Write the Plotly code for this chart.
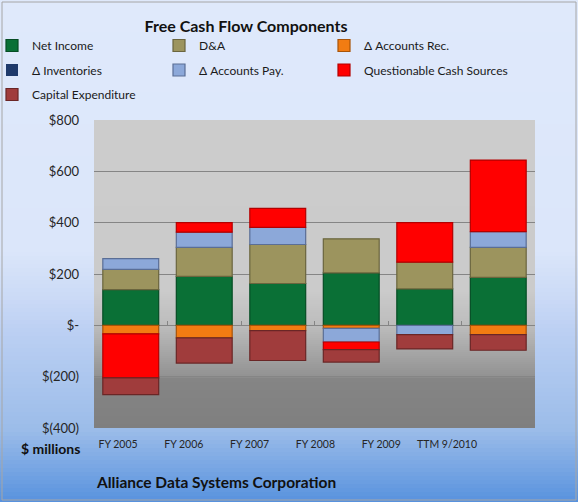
import plotly.graph_objects as go

# ---------------- data ----------------
categories = ["FY 2005", "FY 2006", "FY 2007", "FY 2008", "FY 2009", "TTM 9/2010"]
net_income = [139, 191, 163, 204, 142, 187]
d_and_a = [79, 113, 152, 133, 104, 117]
accounts_rec = [-33, -49, -21, -12, 0, -36]
inventories = [0, 0, 0, 0, 0, 0]
accounts_pay = [42, 59, 67, -53, -36, 61]
questionable = [-172, 37, 74, -30, 154, 279]
capex = [-65, -98, -116, -48, -56, -61]

y_tick_vals = [-400, -200, 0, 200, 400, 600, 800]
y_tick_text = ["$(400)", "$(200)", "$-", "$200", "$400", "$600", "$800"]
Y_MIN, Y_MAX = -400, 800

# ---------------- geometry helpers ----------------
W, H = 578, 502
L, R, T, B = 94, 535, 120, 428
PW, PH = R - L, B - T


def px_x(px):
    return (px - L) / PW


def px_y(py):
    return (B - py) / PH


def interp(stops, p):
    for (p0, c0), (p1, c1) in zip(stops, stops[1:]):
        if p0 <= p <= p1:
            t = 0 if p1 == p0 else (p - p0) / (p1 - p0)
            if isinstance(c0, tuple):
                return tuple(round(a + (b - a) * t) for a, b in zip(c0, c1))
            return round(c0 + (c1 - c0) * t)
    return stops[-1][1]


FONT = "Lato"

series = [
    ("Net Income", net_income, "#0a7036", "#064d24", "legend"),
    ("D&A", d_and_a, "#9c945e", "#6a653e", "legend2"),
    ("Δ Accounts Rec.", accounts_rec, "#f27c12", "#a85408", "legend3"),
    ("Δ Inventories", inventories, "#1f3a6b", "#142648", "legend"),
    ("Δ Accounts Pay.", accounts_pay, "#8ca8d9", "#5a6e96", "legend2"),
    ("Questionable Cash Sources", questionable, "#ff0000", "#b30000", "legend3"),
    ("Capital Expenditure", capex, "#a03c3c", "#6a2626", "legend"),
]

fig = go.Figure()
for i, (name, vals, col, line, leg) in enumerate(series):
    fig.add_trace(go.Bar(
        x=categories, y=vals, name=name,
        marker=dict(color=col, line=dict(color=line, width=[1.2 if v else 0 for v in vals])),
        legend=leg, legendgroup=f"g{i}",
    ))

# invisible carrier so the label axis is drawn
fig.add_trace(go.Scatter(x=list(range(len(categories))), y=[0] * len(categories),
                         xaxis="x2", mode="markers", marker=dict(opacity=0),
                         showlegend=False, hoverinfo="skip"))

shapes = []
# outer background gradient (paper)
paper_stops = [(0, (223, 233, 251)), (250, (219, 230, 250)), (300, (202, 217, 246)),
               (330, (188, 208, 243)), (430, (155, 188, 233)), (502, (88, 146, 222))]
step = 4
for py in range(0, H, step):
    r, g, b = interp(paper_stops, py + step / 2)
    shapes.append(dict(type="rect", xref="paper", yref="paper", layer="below",
                       x0=px_x(-2), x1=px_x(W + 2), y0=px_y(py + step + 0.5), y1=px_y(py),
                       fillcolor=f"rgb({r},{g},{b})", line=dict(width=0)))
# outer border
shapes.append(dict(type="rect", xref="paper", yref="paper", layer="below",
                   x0=px_x(2), x1=px_x(576), y0=px_y(500), y1=px_y(2),
                   line=dict(color="#a6a6a6", width=1)))
# plot area gray gradient
plot_stops = [(120, 204), (290, 203), (326, 188), (376, 146), (378, 133), (428, 127)]
step = 2
for py in range(T, B, step):
    v = interp(plot_stops, py + step / 2)
    shapes.append(dict(type="rect", xref="x domain", yref="paper", layer="below",
                       x0=0, x1=1, y0=px_y(min(py + step + 0.5, B)), y1=px_y(py),
                       fillcolor=f"rgb({v},{v},{v})", line=dict(width=0)))

fig.update_layout(
    width=W, height=H,
    margin=dict(l=L, r=W - R, t=T, b=H - B, autoexpand=False),
    barmode="relative", bargap=0.24,
    paper_bgcolor="white", plot_bgcolor="rgba(0,0,0,0)",
    font=dict(family=FONT, color="#262626"),
    shapes=shapes,
    title=dict(text="<b>Free Cash Flow Components</b>", x=246 / W, xanchor="center",
               y=1 - 26 / H, yanchor="middle", font=dict(size=16, color="#111111", family=FONT)),
    xaxis=dict(type="category", range=[-0.5, 5.5], showticklabels=False, showgrid=False,
               zeroline=False, showline=False, ticks="inside", ticklen=4, tickwidth=1,
               tickcolor="#858585", tickson="boundaries",
               anchor="free", position=(0 - Y_MIN) / (Y_MAX - Y_MIN)),
    xaxis2=dict(overlaying="x", anchor="y", side="bottom", range=[-0.365, 6.337],
                tickvals=list(range(len(categories))), ticktext=categories,
                showgrid=False, zeroline=False, showline=False, ticks="",
                ticklabelstandoff=8, tickfont=dict(size=10.5, color="#262626", family=FONT)),
    yaxis=dict(range=[Y_MIN, Y_MAX], tickvals=y_tick_vals, ticktext=y_tick_text,
               showgrid=True, gridcolor="#858585", gridwidth=1,
               zeroline=True, zerolinecolor="#858585", zerolinewidth=1,
               showline=False, ticks="", ticklabelstandoff=14,
               tickfont=dict(size=13, color="#262626", family=FONT)),
    annotations=[
        dict(text="<b>$ millions</b>", xref="paper", yref="paper", x=px_x(82), y=px_y(448),
             xanchor="right", yanchor="middle", showarrow=False,
             font=dict(size=14, color="#111111", family=FONT)),
        dict(text="<b>Alliance Data Systems Corporation</b>", xref="paper", yref="paper",
             x=px_x(216), y=px_y(482), xanchor="center", yanchor="middle", showarrow=False,
             font=dict(size=15.5, color="#111111", family=FONT)),
    ],
)

leg_common = dict(orientation="v", traceorder="grouped", tracegroupgap=5.5,
                  bgcolor="rgba(0,0,0,0)", borderwidth=0, yanchor="top",
                  font=dict(size=12, color="#1a1a1a", family=FONT), itemclick=False)
fig.update_layout(
    legend=dict(x=px_x(-8), y=px_y(31), **leg_common),
    legend2=dict(x=px_x(159), y=px_y(31), **leg_common),
    legend3=dict(x=px_x(324), y=px_y(31), **leg_common),
)

fig.write_html("out.html", config={"displayModeBar": False},
               post_script="document.body.style.margin='0';document.body.style.padding='0';")
